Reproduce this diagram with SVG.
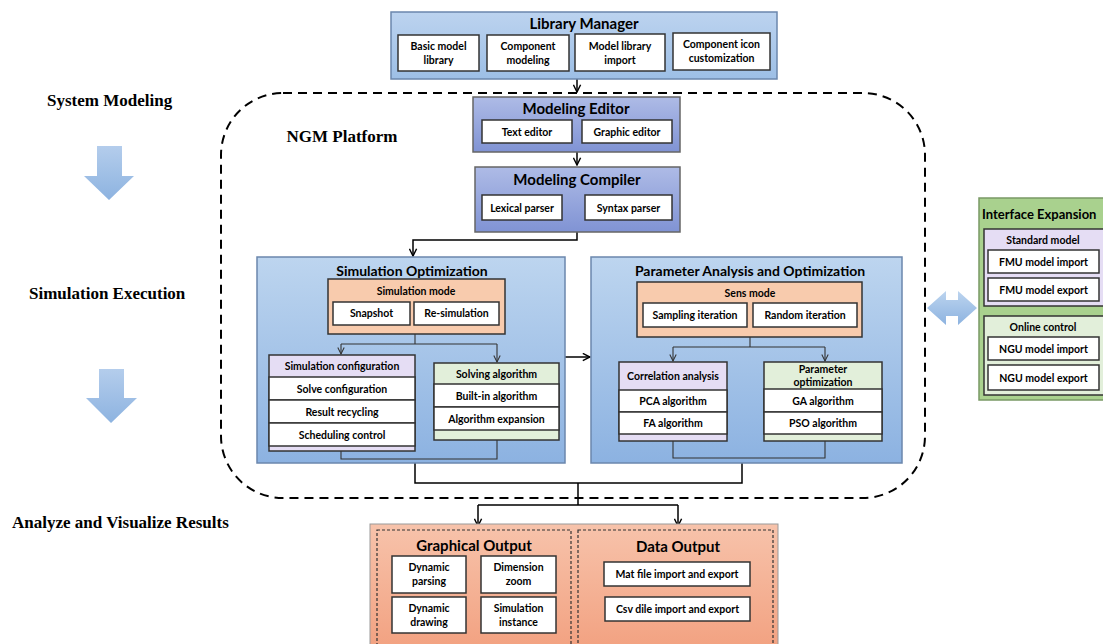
<svg xmlns="http://www.w3.org/2000/svg" width="1103" height="644" viewBox="0 0 1103 644">
<defs>
<linearGradient id="gLib" x1="0" y1="0" x2="0" y2="1"><stop offset="0" stop-color="#bcd3ef"/><stop offset="1" stop-color="#9dbfe6"/></linearGradient>
<linearGradient id="gEd" x1="0" y1="0" x2="0" y2="1"><stop offset="0" stop-color="#aebbe6"/><stop offset="1" stop-color="#8093d4"/></linearGradient>
<linearGradient id="gPan" x1="0" y1="0" x2="0" y2="1"><stop offset="0" stop-color="#bdd5ef"/><stop offset="1" stop-color="#8cb2e1"/></linearGradient>
<linearGradient id="gOut" x1="0" y1="0" x2="0" y2="1"><stop offset="0" stop-color="#f7c3ab"/><stop offset="1" stop-color="#f2a07f"/></linearGradient>
<linearGradient id="gArr" x1="0" y1="0" x2="0" y2="1"><stop offset="0" stop-color="#b4cdec"/><stop offset="1" stop-color="#8db3e0"/></linearGradient>
<linearGradient id="gArrH" x1="0" y1="0" x2="0" y2="1"><stop offset="0" stop-color="#bcd4ef"/><stop offset="1" stop-color="#8db3e0"/></linearGradient>
<marker id="ah" viewBox="0 0 10 10" refX="9" refY="5" markerWidth="9" markerHeight="9" markerUnits="userSpaceOnUse" orient="auto"><path d="M1,1 L9,5 L1,9" fill="none" stroke="#000" stroke-width="1.6"/></marker>
<marker id="ahs" viewBox="0 0 10 10" refX="9" refY="5" markerWidth="8" markerHeight="8" markerUnits="userSpaceOnUse" orient="auto"><path d="M1,1 L9,5 L1,9" fill="none" stroke="#333" stroke-width="1.3"/></marker>
</defs>
<style>
text{font-family:Lato,"Liberation Sans",sans-serif;font-weight:bold;fill:#000;text-anchor:middle}
.t{font-size:14px}
.s{font-size:10.5px}
.side{font-family:"Liberation Serif",serif;font-size:17px;text-anchor:start}
.wb{fill:#fff;stroke:#333;stroke-width:1.5}
.ob{fill:#f8cbad;stroke:#333;stroke-width:1.5}
.pu{fill:#e5ddf4;stroke:#333;stroke-width:1.5}
.gr{fill:#e2efda;stroke:#333;stroke-width:1.5}
.ln{fill:none;stroke:#000;stroke-width:1.5}
.ln2{fill:none;stroke:#333;stroke-width:1.1}
</style>
<rect width="1103" height="644" fill="#fff"/>

<g id="side-labels">
<text class="side" x="47" y="106">System Modeling</text>
<text class="side" x="29" y="299">Simulation Execution</text>
<text class="side" x="12" y="528">Analyze and Visualize Results</text>
<path d="M97,146 H122 V176 H134 L109,200 L84,176 H97 Z" fill="url(#gArr)"/>
<path d="M99,369 H124 V398 H137 L111,423 L86,398 H99 Z" fill="url(#gArr)"/>
</g>

<g id="platform">
<rect x="221" y="93" width="704" height="405" rx="62" ry="62" fill="none" stroke="#000" stroke-width="2" stroke-dasharray="9,6"/>
<text x="342" y="142" style="font-family:'Liberation Serif',serif;font-size:17px">NGM Platform</text>
</g>

<g id="connectors">
<path class="ln" d="M577,79 V92" marker-end="url(#ah)"/>
<path class="ln" d="M577,152 V165" marker-end="url(#ah)"/>
<path class="ln" d="M577,232 V240 H413 V256" marker-end="url(#ah)"/>
<path class="ln" d="M565,357 H590" marker-end="url(#ah)"/>
<path class="ln" d="M415,463 V483 H742 V463"/>
<path class="ln" d="M578,483 V505 M478,505 H678"/>
<path class="ln" d="M478,505 V526" marker-end="url(#ah)"/>
<path class="ln" d="M678,505 V526" marker-end="url(#ah)"/>
</g>

<g id="library-manager">
<rect x="391" y="12" width="386" height="67" fill="url(#gLib)" stroke="#6b87ad" stroke-width="1.5"/>
<text x="584" y="29" style="font-size:15px">Library Manager</text>
<rect class="wb" x="398" y="35" width="81" height="36"/>
<text class="s" x="438.5" y="50">Basic model</text><text class="s" x="438.5" y="64">library</text>
<rect class="wb" x="487" y="35" width="82" height="36"/>
<text class="s" x="528" y="50">Component</text><text class="s" x="528" y="64">modeling</text>
<rect class="wb" x="575" y="34" width="90" height="37"/>
<text class="s" x="620" y="50">Model library</text><text class="s" x="620" y="64">import</text>
<rect class="wb" x="673" y="33" width="97" height="37"/>
<text class="s" x="721.5" y="48">Component icon</text><text class="s" x="721.5" y="62">customization</text>
</g>

<g id="modeling-editor">
<rect x="473" y="97" width="207" height="55" fill="url(#gEd)" stroke="#666" stroke-width="1.5"/>
<text x="576" y="114" style="font-size:15px">Modeling Editor</text>
<rect class="wb" x="482" y="120" width="90" height="23"/>
<text class="s" x="527" y="135.5">Text editor</text>
<rect class="wb" x="582" y="120" width="90" height="23"/>
<text class="s" x="627" y="135.5">Graphic editor</text>
</g>

<g id="modeling-compiler">
<rect x="475" y="167" width="205" height="65" fill="url(#gEd)" stroke="#666" stroke-width="1.5"/>
<text x="577" y="185" style="font-size:15px">Modeling Compiler</text>
<rect class="wb" x="482" y="195" width="80" height="25"/>
<text class="s" x="522" y="211.5">Lexical parser</text>
<rect class="wb" x="585" y="195" width="87" height="25"/>
<text class="s" x="628.5" y="211.5">Syntax parser</text>
</g>

<g id="simulation-optimization">
<rect x="257" y="257" width="308" height="206" fill="url(#gPan)" stroke="#6b87ad" stroke-width="1.5"/>
<text class="t" x="412" y="276">Simulation Optimization</text>
<rect class="ob" x="328" y="279" width="177" height="55"/>
<text class="s" x="416" y="295">Simulation mode</text>
<rect class="wb" x="333" y="302" width="77" height="23"/>
<text class="s" x="371.5" y="317">Snapshot</text>
<rect class="wb" x="414" y="302" width="85" height="23"/>
<text class="s" x="456.5" y="317">Re-simulation</text>
<path class="ln2" d="M415,334 V344 H341 M415,344 H497"/>
<path class="ln2" d="M341,344 V354" marker-end="url(#ahs)"/>
<path class="ln2" d="M497,344 V362" marker-end="url(#ahs)"/>
<g id="simulation-configuration">
<rect class="pu" x="269" y="355" width="146" height="96"/>
<text class="s" x="342" y="370">Simulation configuration</text>
<rect class="wb" x="269" y="377" width="146" height="23"/>
<text class="s" x="342" y="392.5">Solve configuration</text>
<rect class="wb" x="269" y="400" width="146" height="23"/>
<text class="s" x="342" y="415.5">Result recycling</text>
<rect class="wb" x="269" y="423" width="146" height="23"/>
<text class="s" x="342" y="438.5">Scheduling control</text>
</g>
<g id="solving-algorithm">
<rect class="gr" x="434" y="363" width="125" height="77"/>
<text class="s" x="496.5" y="378">Solving algorithm</text>
<rect class="wb" x="434" y="384" width="125" height="23"/>
<text class="s" x="496.5" y="399.5">Built-in algorithm</text>
<rect class="wb" x="434" y="407" width="125" height="23"/>
<text class="s" x="496.5" y="422.5">Algorithm expansion</text>
</g>
<path class="ln2" d="M341,451 V459 H497 V440"/>
</g>

<g id="parameter-analysis">
<rect x="591" y="257" width="311" height="206" fill="url(#gPan)" stroke="#6b87ad" stroke-width="1.5"/>
<text class="t" x="750" y="276">Parameter Analysis and Optimization</text>
<rect class="ob" x="637" y="282" width="225" height="55"/>
<text class="s" x="750" y="297">Sens mode</text>
<rect class="wb" x="643" y="303" width="104" height="24"/>
<text class="s" x="695" y="319">Sampling iteration</text>
<rect class="wb" x="753" y="303" width="104" height="24"/>
<text class="s" x="805" y="319">Random iteration</text>
<path class="ln2" d="M750,337 V347 H673 M750,347 H825"/>
<path class="ln2" d="M673,347 V361" marker-end="url(#ahs)"/>
<path class="ln2" d="M825,347 V361" marker-end="url(#ahs)"/>
<g id="correlation-analysis">
<rect class="pu" x="619" y="362" width="108" height="79"/>
<text class="s" x="673" y="380">Correlation analysis</text>
<rect class="wb" x="619" y="390" width="108" height="22"/>
<text class="s" x="673" y="405">PCA algorithm</text>
<rect class="wb" x="619" y="412" width="108" height="22"/>
<text class="s" x="673" y="427">FA algorithm</text>
</g>
<g id="parameter-optimization">
<rect class="gr" x="764" y="362" width="118" height="79"/>
<text class="s" x="823" y="373">Parameter</text>
<text class="s" x="823" y="386">optimization</text>
<rect class="wb" x="764" y="389" width="118" height="23"/>
<text class="s" x="823" y="404.5">GA algorithm</text>
<rect class="wb" x="764" y="412" width="118" height="22"/>
<text class="s" x="823" y="427">PSO algorithm</text>
</g>
<path class="ln2" d="M673,441 V458 H825 V441"/>
</g>

<g id="double-arrow">
<path d="M927,308 L946,291 V300 H958 V291 L977,308 L958,325 V316 H946 V325 Z" fill="url(#gArrH)"/>
</g>

<g id="interface-expansion">
<rect x="979" y="198" width="130" height="202" fill="#a9d18e" stroke="#7a9966" stroke-width="1.5"/>
<text x="982" y="219" style="text-anchor:start;font-size:13px">Interface Expansion</text>
<rect class="pu" x="984" y="229" width="125" height="77"/>
<text class="s" x="1043" y="244">Standard model</text>
<rect class="wb" x="988" y="250" width="111" height="23"/>
<text class="s" x="1043.5" y="265.5">FMU model import</text>
<rect class="wb" x="988" y="278" width="111" height="23"/>
<text class="s" x="1043.5" y="293.5">FMU model export</text>
<rect class="gr" x="984" y="316" width="125" height="79"/>
<text class="s" x="1043" y="331">Online control</text>
<rect class="wb" x="988" y="337" width="111" height="23"/>
<text class="s" x="1043.5" y="352.5">NGU model import</text>
<rect class="wb" x="988" y="365" width="111" height="25"/>
<text class="s" x="1043.5" y="381.5">NGU model export</text>
</g>

<g id="output">
<rect x="370" y="524" width="408" height="130" fill="url(#gOut)" stroke="#999" stroke-width="1"/>
<g id="graphical-output">
<rect x="377" y="530" width="194" height="124" fill="none" stroke="#333" stroke-width="1.2" stroke-dasharray="3,2"/>
<text class="t" x="474" y="551" style="font-size:15px">Graphical Output</text>
<rect class="wb" x="392" y="556" width="74" height="37"/>
<text class="s" x="429" y="571">Dynamic</text><text class="s" x="429" y="585">parsing</text>
<rect class="wb" x="481" y="556" width="75" height="37"/>
<text class="s" x="518.5" y="571">Dimension</text><text class="s" x="518.5" y="585">zoom</text>
<rect class="wb" x="392" y="597" width="74" height="36"/>
<text class="s" x="429" y="612">Dynamic</text><text class="s" x="429" y="626">drawing</text>
<rect class="wb" x="481" y="597" width="75" height="36"/>
<text class="s" x="518.5" y="612">Simulation</text><text class="s" x="518.5" y="626">instance</text>
</g>
<g id="data-output">
<rect x="578" y="530" width="195" height="124" fill="none" stroke="#333" stroke-width="1.2" stroke-dasharray="3,2"/>
<text class="t" x="678" y="552" style="font-size:15px">Data Output</text>
<rect class="wb" x="604" y="562" width="146" height="24"/>
<text class="s" x="677" y="578">Mat file import and export</text>
<rect class="wb" x="605" y="597" width="145" height="24"/>
<text class="s" x="677.5" y="613">Csv dile import and export</text>
</g>
</g>
</svg>
